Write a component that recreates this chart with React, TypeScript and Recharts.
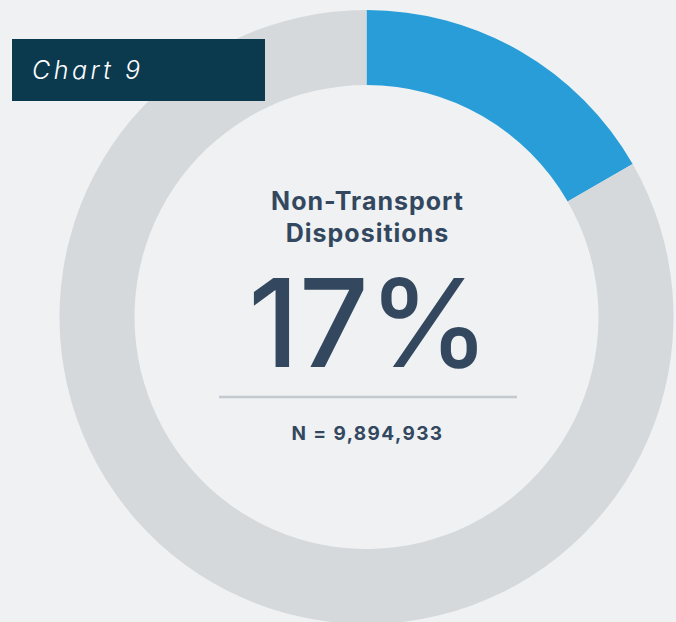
import { PieChart, Pie, Cell } from "recharts";

// share of dispositions (percent)
const categories = ["Non-Transport", "Other"];
const shares = [16.7, 83.3];
const colors = ["#289dd8", "#d5d9dc"];

const data = categories.map((name, i) => ({ name, value: shares[i] }));

const App = () => {
    return (
        <div style={wrapStyle}>
            <PieChart width={676} height={622} margin={{ top: 0, right: 0, bottom: 0, left: 0 }}>
                <Pie
                    data={data}
                    dataKey="value"
                    nameKey="name"
                    cx={366.5}
                    cy={317}
                    innerRadius={232}
                    outerRadius={307}
                    startAngle={90}
                    endAngle={-270}
                    stroke="none"
                    isAnimationActive={false}
                >
                    {data.map((d, i) => (
                        <Cell key={d.name} fill={colors[i]} />
                    ))}
                </Pie>
            </PieChart>
            <svg width={676} height={622} style={overlayStyle}>
                <rect x={12} y={39} width={253} height={62} fill="#0b3a4f" />
                <text x={32} y={79} fill="#ffffff" fontSize={25} fontStyle="italic" fontWeight={300} letterSpacing={3.5} fontFamily="Inter">
                    Chart 9
                </text>
                <g fill="#33485f" fontFamily="Inter" textAnchor="middle">
                    <text x={367.5} y={210} fontSize={25} fontWeight={700} letterSpacing={1}>Non-Transport</text>
                    <text x={367.5} y={242} fontSize={25} fontWeight={700} letterSpacing={1}>Dispositions</text>
                    <text x={369} y={367} fontSize={122} fontWeight={500}>17%</text>
                    <text x={367.5} y={440} fontSize={19} fontWeight={700} letterSpacing={1.4}>N = 9,894,933</text>
                </g>
                <line x1={219} x2={517} y1={397} y2={397} stroke="#c3c9cf" strokeWidth={2.5} />
            </svg>
        </div>
    );
};

const wrapStyle = {
    position: "absolute" as const,
    left: 0,
    top: 0,
    width: 676,
    height: 622,
    background: "#eff1f3",
    overflow: "hidden",
};

const overlayStyle = {
    position: "absolute" as const,
    left: 0,
    top: 0,
};

export default App;
